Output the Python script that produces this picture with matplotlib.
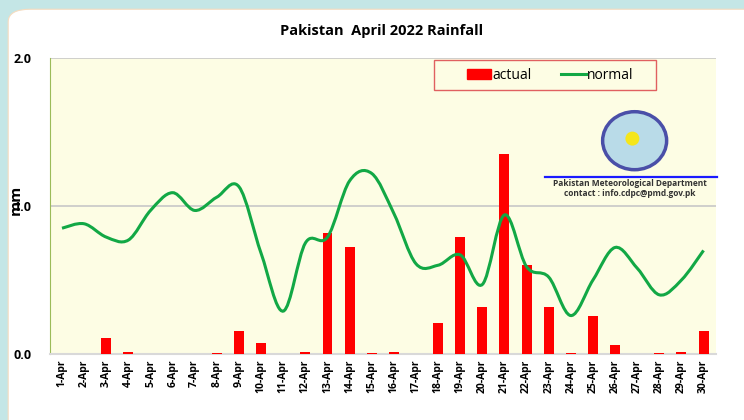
import numpy as np
import matplotlib.pyplot as plt
from matplotlib.path import Path
from matplotlib.patches import PathPatch, FancyBboxPatch, Ellipse, Rectangle
from matplotlib.lines import Line2D

plt.rcParams['font.family'] = ['Open Sans', 'DejaVu Sans']

days = [f'{d}-Apr' for d in range(1, 31)]
actual = [0, 0, 0.11, 0.015, 0, 0, 0, 0.008, 0.155, 0.072,
          0, 0.014, 0.82, 0.725, 0.01, 0.016, 0, 0.21, 0.79, 0.32,
          1.35, 0.60, 0.32, 0.008, 0.257, 0.06, 0, 0.01, 0.015, 0.153]
normal = [0.85, 0.88, 0.79, 0.77, 0.97, 1.09, 0.97, 1.06, 1.13, 0.68,
          0.29, 0.75, 0.79, 1.17, 1.22, 0.95, 0.61, 0.60, 0.67, 0.47,
          0.94, 0.59, 0.52, 0.26, 0.50, 0.72, 0.58, 0.40, 0.50, 0.70]


def smooth_path(xs, ys, t=0.17):
    # Excel-like smoothed line: cubic bezier through every point
    verts = [(xs[0], ys[0])]
    codes = [Path.MOVETO]
    n = len(xs)
    for i in range(n - 1):
        x0, y0 = (xs[i - 1], ys[i - 1]) if i > 0 else (xs[i], ys[i])
        x1, y1 = xs[i], ys[i]
        x2, y2 = xs[i + 1], ys[i + 1]
        x3, y3 = (xs[i + 2], ys[i + 2]) if i + 2 < n else (x2, y2)
        c1 = (x1 + t * (x2 - x0), y1 + t * (y2 - y0))
        c2 = (x2 - t * (x3 - x1), y2 - t * (y3 - y1))
        verts += [c1, c2, (x2, y2)]
        codes += [Path.CURVE4] * 3
    return Path(verts, codes)


fig = plt.figure(figsize=(7.44, 4.2), dpi=100)
fig.patch.set_facecolor('#c4e6e6')
card = FancyBboxPatch((0.011, -0.05), 1.05, 1.028, transform=fig.transFigure,
                      boxstyle='round,pad=0,rounding_size=0.03',
                      facecolor='white', edgecolor='#f6dcc0', linewidth=0.8,
                      zorder=-10)
fig.patches.append(card)

ax = fig.add_axes([0.067, 0.157, 0.895, 0.705])
ax.set_facecolor('#fdfde4')
x = np.arange(len(days))
ax.bar(x, actual, width=0.45, color='#ff0000', zorder=3)
ax.add_patch(PathPatch(smooth_path(x, normal), facecolor='none',
                       edgecolor='#12a845', linewidth=2.2, zorder=4))

ax.set_xlim(-0.55, 29.55)
ax.set_ylim(0, 2.0)
ax.set_yticks([0, 1.0, 2.0])
ax.set_yticklabels(['0.0', '1.0', '2.0'], fontweight='bold', fontsize=9)
ax.set_xticks(x)
ax.set_xticklabels(days, rotation=90, fontweight='bold', fontsize=7.5)
ax.tick_params(length=0, pad=4)
ax.tick_params(axis='y', pad=13)
ax.yaxis.grid(True, color='#c8c8c8', linewidth=1.2, zorder=0)
ax.set_axisbelow(True)
for s in ['top', 'right']:
    ax.spines[s].set_visible(False)
ax.spines['left'].set_color('#9bbb59')
ax.spines['bottom'].set_color('#d9d9d9')
ax.spines['bottom'].set_linewidth(1.5)
ax.set_ylabel('mm', fontweight='bold', fontsize=11, labelpad=-12)
ax.yaxis.set_label_coords(-0.04, 0.52)

fig.text(0.513, 0.925, 'Pakistan  April 2022 Rainfall', ha='center', va='center',
         fontsize=10.5, fontweight='bold')

# legend: entries from matplotlib, frame drawn separately to match the box
handles = [Rectangle((0, 0), 1, 1, color='#ff0000'),
           Line2D([0], [0], color='#12a845', linewidth=2.2)]
ax.add_patch(Rectangle((0.577, 0.892), 0.334, 0.101, transform=ax.transAxes,
                       facecolor='#fdfde4', edgecolor='#e06060',
                       linewidth=1.0, zorder=5))
leg = ax.legend(handles, ['actual', 'normal'], ncol=2, loc='center left',
                bbox_to_anchor=(0.626, 0.942), frameon=False,
                fontsize=10, handlelength=1.75, handleheight=0.75,
                handletextpad=0.1, columnspacing=2.15, borderpad=0,
                borderaxespad=0)
leg.set_zorder(6)

# logo and department note
fig.add_artist(Ellipse((0.853, 0.665), 64 / 744, 58 / 420,
                       transform=fig.transFigure, facecolor='#b9dbe8',
                       edgecolor='#4a4fa8', linewidth=2.5, zorder=5))
fig.add_artist(Ellipse((0.85, 0.67), 14 / 744, 14 / 420,
                       transform=fig.transFigure, facecolor='#f5e61a',
                       edgecolor='none', zorder=6))
fig.add_artist(Line2D([0.733, 0.964], [0.578, 0.578], color='#1a1aff',
                      linewidth=1.6))
fig.text(0.847, 0.564, 'Pakistan Meteorological Department', ha='center',
         va='center', fontsize=6, fontweight='bold', color='#333333')
fig.text(0.847, 0.54, 'contact : info.cdpc@pmd.gov.pk', ha='center',
         va='center', fontsize=6, fontweight='bold', color='#333333')

plt.savefig('out.png', dpi=100)
